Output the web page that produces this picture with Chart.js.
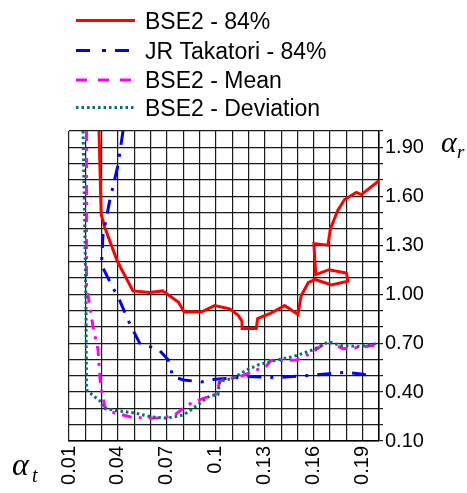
<!DOCTYPE html>
<html>
<head>
<meta charset="utf-8">
<script src="https://cdn.jsdelivr.net/npm/chart.js@4"></script>
<style>
  html, body { margin: 0; padding: 0; background: #fff; }
  #wrap { width: 467px; height: 493px; }
</style>
</head>
<body>
<div id="wrap"><canvas id="chart" width="467" height="493"></canvas></div>
<script>
// BSE2 - 84%
var bse84X = [0.0284, 0.0297, 0.0319, 0.0397, 0.0492, 0.0594, 0.0674, 0.0772, 0.0805, 0.0911,
              0.0993, 0.1085, 0.1137, 0.1160, 0.1161, 0.1248, 0.1256, 0.1330, 0.1422, 0.1503,
              0.1523, 0.1566, 0.1609, 0.1708, 0.1810, 0.1800, 0.1693, 0.1612, 0.1601, 0.1687,
              0.1702, 0.1748, 0.1789, 0.1861, 0.1892, 0.2000];
var bse84Y = [2.00, 1.49, 1.41, 1.20, 1.02, 1.01, 1.02, 0.95, 0.89, 0.89,
              0.93, 0.91, 0.87, 0.835, 0.79, 0.79, 0.85, 0.88, 0.93, 0.876,
              0.99, 1.07, 1.09, 1.056, 1.08, 1.13, 1.15, 1.12, 1.31, 1.30,
              1.40, 1.515, 1.58, 1.624, 1.61, 1.695];

// JR Takatori - 84%
var takX = [0.0431, 0.0400, 0.0349, 0.0308, 0.0299, 0.0349, 0.0411, 0.0472, 0.0533, 0.0650,
            0.0707, 0.0737, 0.0803, 0.0911, 0.0993, 0.1085, 0.1187, 0.1371, 0.1514, 0.1656,
            0.1789, 0.1901, 0.1955];
var takY = [2.00, 1.79, 1.57, 1.36, 1.18, 1.08, 0.96, 0.82, 0.70, 0.66,
            0.60, 0.494, 0.474, 0.462, 0.478, 0.484, 0.495, 0.488, 0.498, 0.509,
            0.521, 0.509, 0.498];

// BSE2 - Mean
var meanX = [0.0207, 0.0207, 0.0223, 0.0247, 0.0278, 0.0292, 0.0319, 0.0349, 0.0472, 0.0574,
             0.0676, 0.0748, 0.0799, 0.0860, 0.1003, 0.1023, 0.1054, 0.1146, 0.1248, 0.1310,
             0.1336, 0.1493, 0.1550, 0.1687, 0.1779, 0.1881, 0.1995];
var meanY = [2.00, 1.056, 0.954, 0.80, 0.658, 0.454, 0.31, 0.28, 0.249, 0.239,
             0.241, 0.259, 0.30, 0.339, 0.388, 0.463, 0.478, 0.494, 0.535, 0.56,
             0.593, 0.596, 0.621, 0.708, 0.666, 0.673, 0.691];

// BSE2 - Deviation
var devX = [0.0186, 0.0196, 0.0204, 0.0207, 0.0268, 0.0299, 0.0308, 0.0390, 0.0513, 0.0594,
            0.0697, 0.0799, 0.0833, 0.0962, 0.1013, 0.1023, 0.1105, 0.1187, 0.1258, 0.1371,
            0.1473, 0.1595, 0.1691, 0.1769, 0.1881, 0.1995];
var devY = [2.00, 1.454, 0.964, 0.413, 0.362, 0.339, 0.30, 0.287, 0.27, 0.25,
            0.239, 0.259, 0.28, 0.376, 0.385, 0.468, 0.484, 0.535, 0.566, 0.596,
            0.617, 0.659, 0.708, 0.685, 0.679, 0.699];

var seriesNames = ['BSE2 - 84%', 'JR Takatori - 84%', 'BSE2 - Mean', 'BSE2 - Deviation'];

var xTickValues = ['0.01', '0.04', '0.07', '0.10', '0.13', '0.16', '0.19'];
var xTickLabels = ['0.01', '0.04', '0.07', '0.1', '0.13', '0.16', '0.19'];
var yTickValues = ['0.10', '0.40', '0.70', '1.00', '1.30', '1.60', '1.90'];
var yTickLabels = ['0.10', '0.40', '0.70', '1.00', '1.30', '1.60', '1.90'];

function toPoints(xs, ys) {
    let pts = [];
    xs.forEach(function(x, i) {
        pts.push({ x: x, y: ys[i] });
    });
    return pts;
}

var styles = [
    { color: '#ff0000', dash: [],            legendDash: [],        width: 3 },
    { color: '#0000ff', dash: [14, 9, 3, 9], legendDash: [14, 12, 4, 9], width: 3 },
    { color: '#ff00ff', dash: [10, 7, 3, 7], legendDash: [11, 11],  width: 3 },
    { color: '#007070', dash: [2.5, 3],      legendDash: [2.5, 3],  width: 3 }
];

// legend and axis symbols drawn onto the canvas
var extras = {
    id: 'extras',
    afterDraw: function(chart) {
        let ctx = chart.ctx;
        ctx.save();
        styles.forEach(function(s, i) {
            let ly = [20.5, 50.5, 80, 107.5][i];
            ctx.beginPath();
            ctx.strokeStyle = s.color;
            ctx.lineWidth = s.width;
            ctx.setLineDash(s.legendDash);
            ctx.moveTo(76, ly);
            ctx.lineTo(135, ly);
            ctx.stroke();
            ctx.setLineDash([]);
            ctx.fillStyle = '#000';
            ctx.font = '23px "Liberation Sans", Arial, sans-serif';
            ctx.textBaseline = 'alphabetic';
            ctx.fillText(seriesNames[i], 145, ly + 8.3);
        });
        ctx.fillStyle = '#000';
        ctx.font = 'italic 30px "Liberation Serif", "DejaVu Serif", serif';
        ctx.fillText('\u03b1', 441, 152);
        ctx.font = 'italic 19px "Liberation Serif", "DejaVu Serif", serif';
        ctx.fillText('r', 457, 158);
        ctx.font = 'italic 32px "Liberation Serif", "DejaVu Serif", serif';
        ctx.fillText('\u03b1', 12, 475);
        ctx.font = 'italic 20px "Liberation Serif", "DejaVu Serif", serif';
        ctx.fillText('t', 32, 482);
        ctx.restore();
    }
};

var ctx = document.getElementById('chart');
var datasets = [
    toPoints(bse84X, bse84Y),
    toPoints(takX, takY),
    toPoints(meanX, meanY),
    toPoints(devX, devY)
].map(function(pts, i) {
    return {
        label: seriesNames[i],
        data: pts,
        showLine: true,
        borderColor: styles[i].color,
        backgroundColor: styles[i].color,
        borderWidth: styles[i].width,
        borderDash: styles[i].dash,
        pointRadius: 0,
        tension: 0,
        order: 4 - i
    };
});

new Chart(ctx, {
    type: 'scatter',
    data: { datasets: datasets },
    options: {
        responsive: false,
        animation: false,
        layout: { padding: { left: 69, top: 131, right: 0, bottom: 0 } },
        plugins: {
            legend: { display: false },
            tooltip: { enabled: false }
        },
        scales: {
            x: {
                type: 'linear',
                min: 0.01,
                max: 0.20,
                afterFit: function(scale) { scale.height = 52; },
                border: { color: '#000', width: 1.5 },
                grid: { color: '#1a1a1a', lineWidth: 1.2, drawTicks: false },
                ticks: {
                    stepSize: 0.01,
                    autoSkip: false,
                    minRotation: 90,
                    maxRotation: 90,
                    padding: 5,
                    color: '#000',
                    font: { family: '"Liberation Sans", Arial, sans-serif', size: 20 },
                    callback: function(value) {
                        let k = xTickValues.indexOf(value.toFixed(2));
                        return k >= 0 ? xTickLabels[k] : '';
                    }
                }
            },
            y: {
                type: 'linear',
                position: 'right',
                min: 0.1,
                max: 2.0,
                afterFit: function(scale) { scale.width = 88; },
                border: { color: '#000', width: 1.5 },
                grid: { color: '#1a1a1a', lineWidth: 1.2, tickLength: 4 },
                ticks: {
                    stepSize: 0.1,
                    autoSkip: false,
                    padding: 2,
                    color: '#000',
                    font: { family: '"Liberation Sans", Arial, sans-serif', size: 20 },
                    callback: function(value) {
                        let k = yTickValues.indexOf(value.toFixed(2));
                        return k >= 0 ? yTickLabels[k] : '';
                    }
                }
            }
        }
    },
    plugins: [extras]
});
</script>
</body>
</html>
